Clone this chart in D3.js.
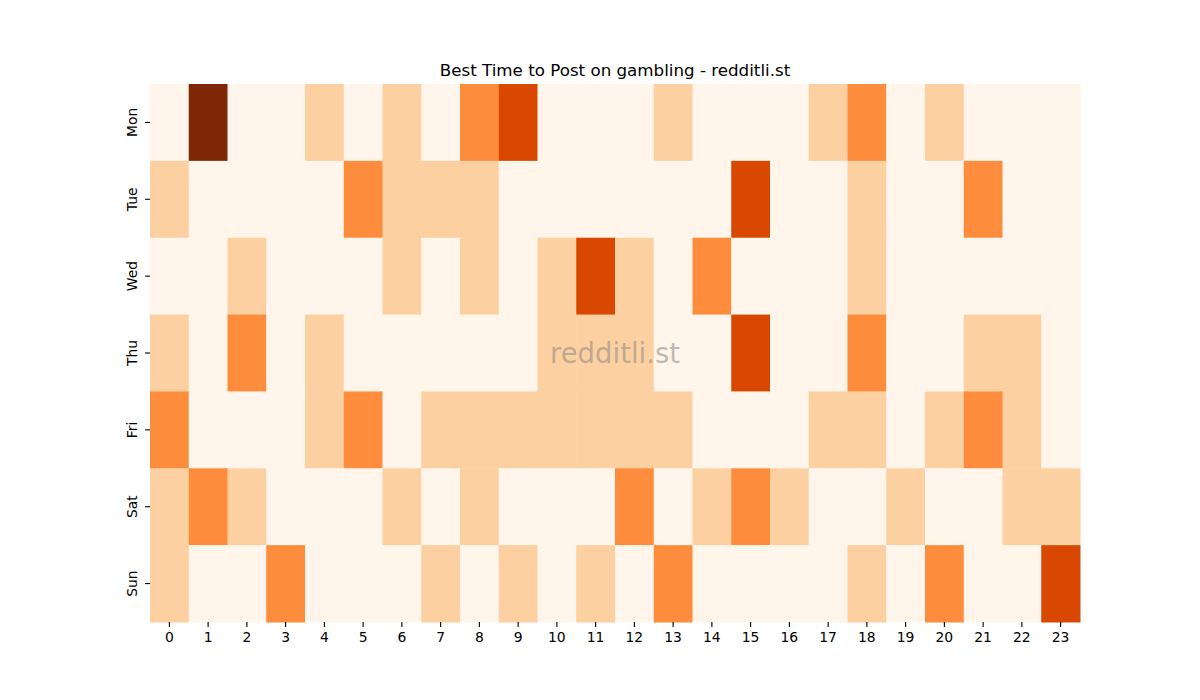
<!DOCTYPE html>
<html><head><meta charset="utf-8">
<script src="https://cdn.jsdelivr.net/npm/d3@7"></script>
<style>body{margin:0;background:#fff;}svg{display:block;font-family:"DejaVu Sans",sans-serif;}</style>
</head><body>
<script>
const days = ["Mon","Tue","Wed","Thu","Fri","Sat","Sun"];
const hours = d3.range(24).map(String);
const title = "Best Time to Post on gambling - redditli.st";
const monVals = [0,4,0,0,1,0,1,0,2,3,0,0,0,1,0,0,0,1,2,0,1,0,0,0];
const tueVals = [1,0,0,0,0,2,1,1,1,0,0,0,0,0,0,3,0,0,1,0,0,2,0,0];
const wedVals = [0,0,1,0,0,0,1,0,1,0,1,3,1,0,2,0,0,0,1,0,0,0,0,0];
const thuVals = [1,0,2,0,1,0,0,0,0,0,1,1,1,0,0,3,0,0,2,0,0,1,1,0];
const friVals = [2,0,0,0,1,2,0,1,1,1,1,1,1,1,0,0,0,1,1,0,1,2,1,0];
const satVals = [1,2,1,0,0,0,1,0,1,0,0,0,2,0,1,2,1,0,0,1,0,0,1,1];
const sunVals = [1,0,0,2,0,0,0,1,0,1,0,1,0,2,0,0,0,0,1,0,2,0,0,3];
const levelColors = ["#fff5eb","#fdd0a2","#fd8d3c","#d94801","#7f2704"];

const rows = [monVals,tueVals,wedVals,thuVals,friVals,satVals,sunVals];
const cells = [];
rows.forEach((r,i)=>r.forEach((v,j)=>cells.push({day:days[i],hour:hours[j],v})));

const W=1200,H=700, L=150,R=1080,T=84,B=622;
const svg=d3.select("body").append("svg").attr("width",W).attr("height",H);
const x=d3.scaleBand().domain(hours).range([L,R]);
const y=d3.scaleBand().domain(days).range([T,B]);
const color=d3.scaleOrdinal().domain([0,1,2,3,4]).range(levelColors);

svg.append("g").selectAll("rect").data(cells).join("rect")
  .attr("x",d=>x(d.hour)).attr("y",d=>y(d.day))
  .attr("width",x.bandwidth()+0.5).attr("height",y.bandwidth()+0.5)
  .attr("fill",d=>color(d.v));

const xa=svg.append("g").attr("transform",`translate(0,${B})`)
  .call(d3.axisBottom(x).tickSize(4.9).tickPadding(4.9));
xa.select(".domain").remove();
xa.selectAll("text").attr("font-size","13.9px").attr("font-family","DejaVu Sans").attr("fill","#000");
xa.selectAll("line").attr("stroke","#000").attr("stroke-width",1.1);

const ya=svg.append("g").attr("transform",`translate(${L},0)`)
  .call(d3.axisLeft(y).tickSize(4.9).tickPadding(4.9));
ya.select(".domain").remove();
ya.selectAll("line").attr("stroke","#000").attr("stroke-width",1.1);
ya.selectAll("text").attr("font-size","13.9px").attr("font-family","DejaVu Sans").attr("fill","#000")
  .each(function(d){
    const t=d3.select(this);
    t.attr("x",null).attr("dy",null).attr("text-anchor","middle")
     .attr("transform",`translate(-18,0) rotate(-90)`).attr("dominant-baseline","central");
  });

svg.append("text").attr("x",(L+R)/2).attr("y",T-8).attr("text-anchor","middle")
  .attr("font-size","16.7px").attr("fill","#000").text(title);

svg.append("text").attr("x",(L+R)/2).attr("y",(T+B)/2).attr("text-anchor","middle")
  .attr("dominant-baseline","central").attr("font-size","27.5px")
  .attr("fill","#808080").attr("fill-opacity",0.5).text("redditli.st");
</script>
</body></html>
